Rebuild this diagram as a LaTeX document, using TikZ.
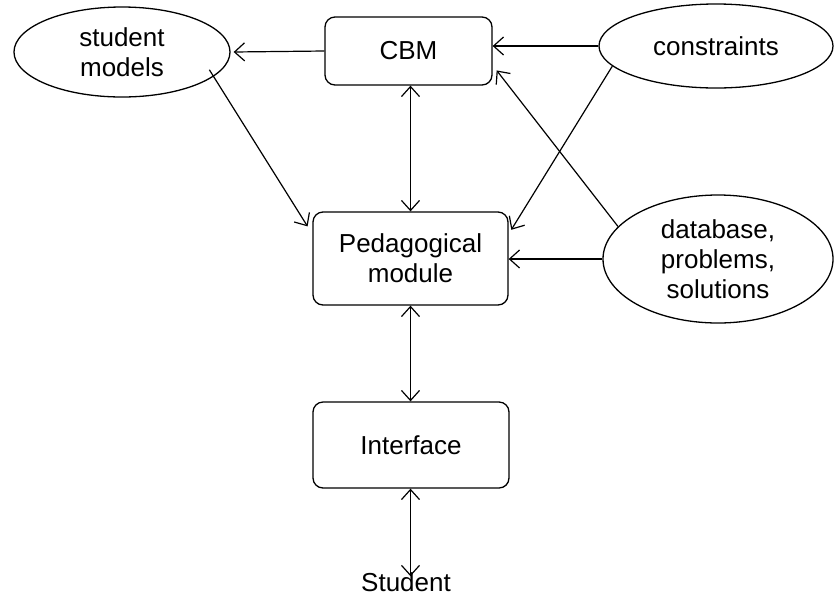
\documentclass[tikz,border=0pt]{standalone}
\usepackage{fontspec}
\setmainfont{Liberation Sans}
\usetikzlibrary{shapes.geometric,arrows.meta}
\begin{document}
\begin{tikzpicture}[x=1pt,y=-1pt,
  every node/.style={font=\fontsize{26}{30}\selectfont, align=center, inner sep=0pt},
  modbox/.style={draw, rounded corners=10pt, line width=1.3pt},
  store/.style={draw, ellipse, line width=1.3pt},
  tip/.style={Straight Barb[length=10pt,width=18pt,line width=1.2pt]},
  link/.style={line width=1.2pt, -{Straight Barb[length=10pt,width=18pt,line width=1.2pt]}},
  dlink/.style={line width=1.2pt, {Straight Barb[length=10pt,width=18pt,line width=1.2pt]}-{Straight Barb[length=10pt,width=18pt,line width=1.2pt]}}]
  \fill[white] (0,0) rectangle (834,598);
  \useasboundingbox (0,0) rectangle (834,598);

  % modules
  \node[modbox, minimum width=167pt, minimum height=68pt] (cbm) at (408.5,51) {CBM};
  \node[modbox, minimum width=195pt, minimum height=93pt] (ped) at (410.5,258.5) {Pedagogical\\module};
  \node[modbox, minimum width=196pt, minimum height=86pt] (ifc) at (411,445) {Interface};
  \node (stu) at (406,582) {Student};

  % knowledge stores
  \node[store, minimum width=216pt, minimum height=90pt] (sm) at (122,52) {student\\models};
  \node[store, minimum width=234pt, minimum height=84pt] (con) at (716,46) {constraints};
  \node[store, minimum width=230pt, minimum height=128pt] (db) at (718,259) {database,\\problems,\\solutions};

  % connectors
  \draw[link] (cbm.west) -- ([xshift=3pt]sm.east);
  \draw[link] (con.west) -- (cbm.east |- con.west);
  \draw[link] (db.162) -- ([xshift=4pt]cbm.-13);
  \draw[link, shorten >=5pt] (con.-169) -- (ped.14);
  \draw[link] (db.west) -- (ped.east |- db.west);
  \draw[link, shorten >=9pt, shorten <=-8pt] (sm.-15) -- (ped.166);
  \draw[dlink] (ped.north |- cbm.south) -- (ped.north);
  \draw[dlink] (ped.south) -- (ped.south |- ifc.north);
  \draw[dlink] (ped.south |- ifc.south) -- ([yshift=-4pt]ped.south |- stu.north);
\end{tikzpicture}
\end{document}
